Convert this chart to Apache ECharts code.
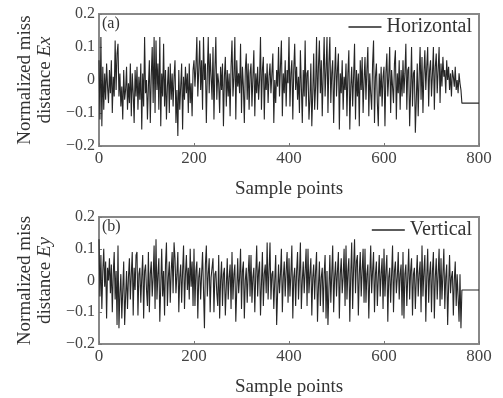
<!DOCTYPE html>
<html><head><meta charset="utf-8">
<script src="https://cdn.jsdelivr.net/npm/echarts@6/dist/echarts.min.js"></script>
<style>html,body{margin:0;padding:0;background:#fff}#c{width:503px;height:398px}</style>
</head><body><div id="c"></div>
<script>
// spacing (in sample points) between the values
const sampleStep = 2;
const xTicks = [0, 200, 400, 600, 800];
const yTicks = [-0.2, -0.1, 0, 0.1, 0.2];
const seriesNames = ['Horizontal', 'Vertical'];
const panelLabels = ['(a)', '(b)'];

const exValues = [
 0.06,-0.12,0.13,-0.14,0.04,-0.09,0.02,-0.06,0.05,-0.02,-0.07,0.03,-0.04,0.06,-0.10,0.01,-0.05,0.12,-0.03,0.08,
 0.11,-0.05,0.02,-0.08,-0.02,-0.12,0.03,-0.06,-0.03,0.04,-0.09,-0.01,-0.07,0.05,-0.11,0.02,-0.04,-0.13,0.03,-0.05,
 0.04,-0.09,0.01,-0.06,0.05,-0.15,0.02,-0.08,0.13,-0.04,0.00,-0.12,-0.02,0.06,-0.13,0.01,0.10,-0.07,0.13,-0.10,
 0.12,-0.03,0.05,-0.09,0.13,-0.14,0.02,-0.05,0.11,-0.08,0.03,-0.12,-0.02,0.04,-0.10,0.05,-0.06,0.02,-0.08,0.01,
 0.06,-0.13,-0.03,-0.17,0.03,-0.09,-0.02,0.05,-0.15,0.01,-0.06,0.04,-0.04,0.02,-0.10,0.05,-0.07,-0.01,-0.11,0.03,
 0.06,-0.02,0.04,0.13,-0.05,0.03,0.12,-0.03,0.06,-0.09,0.13,0.00,0.05,-0.13,0.02,0.13,-0.04,0.08,0.01,-0.06,
 0.10,-0.12,0.03,0.13,-0.06,0.02,-0.01,-0.10,0.04,-0.03,0.05,-0.14,0.01,0.07,-0.08,0.03,-0.05,0.02,-0.11,0.04,
 0.12,-0.05,0.01,0.13,-0.12,0.06,-0.02,0.02,-0.04,0.11,-0.10,0.04,-0.02,-0.13,0.03,0.08,-0.06,0.05,-0.09,0.02,
 0.05,-0.08,0.01,0.09,-0.11,0.02,-0.04,0.04,-0.06,0.00,0.13,-0.09,0.03,0.07,-0.12,0.02,-0.03,0.05,-0.07,0.01,
 0.05,-0.04,0.02,0.08,-0.13,0.00,-0.07,0.03,-0.02,0.10,-0.05,0.04,0.12,-0.11,0.02,-0.04,0.06,-0.08,0.03,-0.01,
 0.13,-0.08,0.02,0.06,-0.12,0.03,0.11,-0.03,0.04,-0.06,0.01,-0.10,0.09,-0.02,-0.13,0.03,-0.05,0.12,-0.08,0.02,
 0.03,-0.12,-0.06,0.05,-0.14,-0.04,0.08,-0.09,-0.02,0.13,-0.09,0.04,0.12,-0.04,0.06,-0.11,0.02,0.13,-0.05,0.03,
 0.13,-0.10,0.05,0.13,-0.07,0.02,0.06,-0.13,0.01,0.10,-0.05,0.03,0.08,-0.15,0.02,-0.04,0.06,-0.09,0.01,-0.03,
 0.05,-0.11,0.02,0.09,-0.15,-0.02,0.04,-0.08,0.01,0.11,-0.12,0.03,-0.05,0.02,-0.14,0.06,-0.03,0.07,-0.10,0.00,
 0.07,-0.06,0.03,0.10,-0.11,0.02,-0.04,-0.09,0.05,0.12,-0.13,0.01,0.05,-0.07,-0.14,0.02,-0.05,0.04,-0.08,0.01,
 0.04,-0.14,0.02,0.08,-0.05,0.01,0.10,-0.10,0.03,-0.02,-0.07,0.05,0.09,-0.12,0.02,-0.04,0.06,-0.09,0.03,-0.05,
 0.06,-0.04,0.02,0.11,-0.09,0.03,0.04,-0.14,-0.03,0.10,-0.08,0.02,0.03,-0.16,-0.06,0.05,-0.11,0.01,0.10,-0.06,
 0.07,-0.10,0.02,0.09,-0.03,0.04,0.10,-0.08,0.03,0.06,-0.05,0.02,0.10,-0.09,0.04,0.08,-0.04,0.03,0.10,-0.07,
 0.05,-0.02,0.07,0.01,0.03,-0.04,0.06,0.00,0.04,-0.03,0.02,-0.05,0.03,0.01,-0.02,0.04,-0.03,0.00,-0.04,0.02,
 -0.01,-0.03
];
const exTail = -0.07;

const eyValues = [
 0.13,-0.05,0.08,-0.09,0.03,0.10,-0.02,0.06,-0.12,0.04,0.00,0.07,-0.04,0.05,-0.10,0.02,0.09,-0.06,0.03,-0.14,
 0.11,-0.15,-0.04,0.02,-0.12,-0.03,0.06,-0.14,-0.05,0.03,-0.09,0.01,0.07,-0.06,0.02,0.09,-0.11,0.04,-0.03,0.08,
 0.09,-0.11,0.02,0.04,-0.07,0.01,0.08,-0.12,0.03,0.05,-0.03,-0.08,0.09,-0.10,0.02,0.06,-0.05,0.01,0.11,-0.09,
 0.13,-0.06,0.02,0.07,-0.13,-0.02,0.10,-0.05,0.03,-0.11,0.05,0.12,-0.08,0.01,0.06,-0.07,0.03,0.09,-0.04,0.12,
 0.07,-0.04,0.02,0.09,-0.10,0.01,0.05,-0.07,0.03,0.11,-0.09,0.02,0.08,-0.03,0.04,-0.06,0.10,-0.02,0.06,-0.08,
 0.10,-0.08,0.03,0.06,-0.12,0.01,0.04,-0.06,0.02,0.09,-0.03,-0.15,0.05,0.11,-0.05,0.02,0.07,-0.10,0.01,0.04,
 0.07,-0.10,0.02,0.03,-0.04,-0.08,0.08,-0.12,0.00,0.06,-0.08,0.02,0.04,-0.11,-0.02,0.07,-0.06,0.01,0.05,-0.09,
 0.09,-0.06,0.02,0.05,-0.13,-0.03,0.07,-0.04,0.01,0.10,-0.09,0.03,0.06,-0.12,0.00,0.04,-0.07,0.02,0.08,-0.05,
 0.08,-0.07,0.01,0.04,-0.10,0.02,0.11,-0.05,0.03,0.06,-0.11,-0.01,0.09,-0.08,0.02,0.05,-0.04,0.12,-0.06,0.03,
 0.12,-0.06,0.02,0.03,-0.09,0.00,0.08,-0.14,-0.04,0.05,-0.04,0.02,0.10,-0.10,0.01,0.06,-0.05,0.03,0.09,-0.07,
 0.07,-0.05,0.02,0.11,-0.12,0.01,0.04,-0.08,0.03,0.09,-0.06,0.02,0.12,-0.09,0.00,0.06,-0.04,0.03,0.10,-0.08,
 0.10,-0.04,0.02,0.07,-0.11,0.01,0.05,-0.06,0.03,0.09,-0.13,-0.02,0.06,-0.08,0.01,0.04,-0.10,0.02,0.08,-0.12,
 0.03,-0.14,-0.03,0.08,-0.07,0.02,0.11,-0.10,0.01,0.06,-0.05,0.03,0.09,-0.12,0.02,0.07,-0.04,0.01,0.10,-0.08,
 0.11,-0.06,0.03,0.07,-0.13,0.02,0.12,-0.09,0.04,0.13,-0.04,0.06,0.08,-0.11,0.02,0.09,-0.05,0.03,0.10,-0.07,
 0.10,-0.07,0.02,0.05,-0.12,0.01,0.11,-0.04,0.03,0.09,-0.10,0.02,0.06,-0.08,0.01,0.08,-0.05,0.02,0.07,-0.09,
 0.10,-0.05,0.03,0.08,-0.13,0.01,0.04,-0.07,0.02,0.11,-0.10,0.03,0.06,-0.04,0.01,0.09,-0.06,0.02,0.05,-0.11,
 0.09,-0.12,0.02,0.05,-0.08,0.01,0.10,-0.06,0.03,0.07,-0.11,0.02,0.04,-0.09,0.01,0.08,-0.05,0.02,0.06,-0.10,
 0.11,-0.05,0.03,0.08,-0.13,0.01,0.10,-0.07,0.02,0.06,-0.10,0.03,0.09,-0.12,0.01,0.07,-0.06,0.02,0.10,-0.08,
 0.07,-0.06,0.02,0.10,-0.09,0.01,0.05,-0.14,-0.02,0.08,-0.04,0.01,0.03,-0.11,0.00,0.06,-0.08,0.02,-0.05,-0.13,
 0.02,-0.15
];
const eyTail = -0.03;
const xEnd = 800;

function build(vals, tail) {
  const d = vals.map((v, i) => [i * sampleStep, v]);
  d.push([vals.length * sampleStep, tail]);
  d.push([xEnd, tail]);
  return d;
}

const FONT = '"Liberation Serif", "DejaVu Serif", serif';
const grids = [
  {left: 99, right: 24, top: 14, height: 132},
  {left: 99, right: 24, top: 217, height: 132}
];
const fmtY = v => (Math.abs(v) < 1e-9 ? '0' : (v < 0 ? '\u2212' + Math.abs(v).toFixed(1) : v.toFixed(1)));

function xAxis(i) {
  return {
    gridIndex: i, type: 'value', min: xTicks[0], max: xTicks[xTicks.length - 1], interval: 200,
    name: 'Sample points', nameLocation: 'middle', nameGap: 34,
    nameTextStyle: {fontFamily: FONT, fontSize: 19, color: '#333'},
    axisLine: {show: true, onZero: false, lineStyle: {color: '#888', width: 2}},
    axisTick: {show: true, inside: true, length: 3, lineStyle: {color: '#777'}},
    axisLabel: {fontFamily: FONT, fontSize: 17, color: '#444', margin: 4},
    splitLine: {show: false}
  };
}
function yAxis(i, sym) {
  return {
    gridIndex: i, type: 'value', min: yTicks[0], max: yTicks[yTicks.length - 1], interval: 0.1,
    name: '{n|Normalized miss}\n{n|distance }{i|' + sym + '}', nameLocation: 'middle', nameGap: 44, nameRotate: 90,
    nameTextStyle: {rich: {
      n: {fontFamily: FONT, fontSize: 19, color: '#333', lineHeight: 20},
      i: {fontFamily: FONT, fontSize: 19, color: '#333', fontStyle: 'italic', lineHeight: 20}
    }},
    axisLine: {show: true, onZero: false, lineStyle: {color: '#888', width: 2}},
    axisTick: {show: true, inside: true, length: 3, lineStyle: {color: '#777'}},
    axisLabel: {fontFamily: FONT, fontSize: 16, color: '#444', margin: 4, formatter: fmtY},
    splitLine: {show: false}
  };
}

const chart = echarts.init(document.getElementById('c'), null, {renderer: 'canvas'});
chart.setOption({
  animation: false,
  backgroundColor: '#fff',
  grid: grids.map(g => Object.assign({show: true, borderColor: '#888', borderWidth: 2, backgroundColor: 'transparent'}, g)),
  title: [
    {text: panelLabels[0], left: 102, top: 16, textStyle: {fontFamily: FONT, fontSize: 16, fontWeight: 'normal', color: '#333'}, padding: 0},
    {text: panelLabels[1], left: 102, top: 219, textStyle: {fontFamily: FONT, fontSize: 16, fontWeight: 'normal', color: '#333'}, padding: 0}
  ],
  legend: [
    {data: [seriesNames[0]], right: 31, top: 17, icon: 'rect', itemWidth: 33, itemHeight: 1.5, itemGap: 4,
     textStyle: {fontFamily: FONT, fontSize: 20, color: '#333'}, padding: 0},
    {data: [seriesNames[1]], right: 31, top: 220, icon: 'rect', itemWidth: 33, itemHeight: 1.5, itemGap: 4,
     textStyle: {fontFamily: FONT, fontSize: 20, color: '#333'}, padding: 0}
  ],
  xAxis: [xAxis(0), xAxis(1)],
  yAxis: [yAxis(0, 'Ex'), yAxis(1, 'Ey')],
  series: [
    {name: seriesNames[0], type: 'line', xAxisIndex: 0, yAxisIndex: 0, data: build(exValues, exTail),
     showSymbol: false, symbol: 'none', lineStyle: {color: '#262626', width: 1.1}, itemStyle: {color: '#262626'}},
    {name: seriesNames[1], type: 'line', xAxisIndex: 1, yAxisIndex: 1, data: build(eyValues, eyTail),
     showSymbol: false, symbol: 'none', lineStyle: {color: '#262626', width: 1.1}, itemStyle: {color: '#262626'}}
  ]
});
</script></body></html>
